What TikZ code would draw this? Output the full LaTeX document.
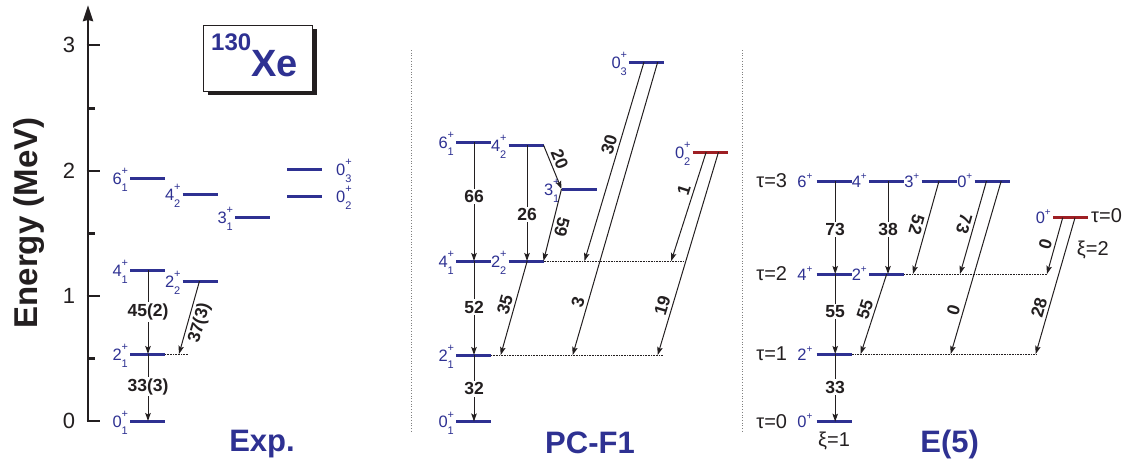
\documentclass[tikz,border=0pt]{standalone}
\usepackage{fontspec}
\setmainfont{Liberation Sans}
\usetikzlibrary{arrows.meta,shadows,calc}
\definecolor{lvb}{HTML}{2E3192}
\definecolor{lvr}{HTML}{9E1F24}
\definecolor{ink}{HTML}{231F20}
\newcommand\JP[2]{#1\rlap{\raisebox{9.5pt}{\fontsize{11}{11}\selectfont +}}\raisebox{-7pt}{\fontsize{11}{11}\selectfont #2}}
\newcommand\Jp[1]{#1\raisebox{8pt}{\fontsize{10}{10}\selectfont +}}
\newcommand\lev[3][lvb]{\node[lvn] (#2) at (#3) {}; \draw[lvl,draw=#1] (#2.west) -- (#2.east);}
\begin{document}
\begin{tikzpicture}[x=1pt,y=-1pt,
  lvn/.style={inner sep=0pt,outer sep=0pt,minimum width=35pt,minimum height=0pt,draw=none},
  lvl/.style={line width=3pt},
  llab/.style={text=lvb,font=\fontsize{16.5}{16.5}\selectfont,inner sep=0pt,anchor=base east},
  rlab/.style={text=lvb,font=\fontsize{16.5}{16.5}\selectfont,inner sep=0pt,anchor=base west},
  tr/.style={line width=1pt,draw=ink,-{Stealth[length=8pt,width=5.5pt,inset=1.5pt]}},
  num/.style={font=\bfseries\fontsize{17.5}{17.5}\selectfont,text=ink,inner sep=1pt},
  vnum/.style={num,fill=white,inner sep=1.5pt},
  snum/.style={num,sloped},
  dotl/.style={densely dotted,line width=0.6pt,draw=ink},
  sepl/.style={dotted,line width=0.7pt,draw=gray},
  axis/.style={line width=2.8pt,draw=ink},
  ticklab/.style={font=\fontsize{22}{22}\selectfont,text=ink,inner sep=0pt,anchor=base},
  panel/.style={font=\bfseries\fontsize{31}{31}\selectfont,text=lvb,inner sep=0pt,anchor=base},
  tau/.style={font=\fontsize{20}{20}\selectfont,text=ink,inner sep=0pt,anchor=base}]
\useasboundingbox (0,0) rectangle (1133,464);

% ---------- axis ----------
\coordinate (ax0) at (88,421);
\coordinate (axtop) at (88,5);
\draw[axis,-{Stealth[length=16pt,width=10pt,inset=1pt]}] (ax0) -- (axtop);
\foreach \yy in {421,296,171,45} \draw[axis] (86.6,\yy) -- (100,\yy);
\foreach \yy in {358.5,233.5,108.5} \draw[axis] (88,\yy) -- (95,\yy);
\node[ticklab] (t0) at (69,428.9) {0};
\node[ticklab] (t1) at (69,303.9) {1};
\node[ticklab] (t2) at (69,178.9) {2};
\node[ticklab] (t3) at (69,52.9) {3};
\node[font=\bfseries\fontsize{33}{33}\selectfont,text=ink,rotate=90,inner sep=0pt] (ylab) at (29,223) {Energy (MeV)};

% ---------- title box ----------
\node[draw=ink,line width=0.8pt,fill=white,minimum width=109pt,minimum height=66pt,inner sep=0pt,
  drop shadow={shadow xshift=5pt,shadow yshift=-4pt,opacity=1,fill=ink}] (tbox) at (257.5,58) {};
\node[anchor=base west,inner sep=0pt,text=lvb,font=\bfseries] (ttxt) at (211,76.7)
  {\raisebox{26.7pt}{\fontsize{24}{24}\selectfont 130}\fontsize{38}{38}\selectfont Xe};

% ---------- separators ----------
\coordinate (s1a) at (411,50); \coordinate (s1b) at (411,433);
\coordinate (s2a) at (742,50); \coordinate (s2b) at (742,433);
\draw[sepl] (s1a) -- (s1b);
\draw[sepl] (s2a) -- (s2b);

% ---------- Exp ----------
\lev{e01}{147.5,421}
\lev{e21}{147.5,354}
\lev{e41}{147.5,270}
\lev{e61}{147.5,178}
\lev{e22}{200,281}
\lev{e42}{200,194}
\lev{e31}{252.5,217}
\lev{e02}{304.5,196}
\lev{e03}{304.5,169}
\node[llab] (le01) at ([xshift=-2pt,yshift=-6pt]e01.west) {\JP{0}{1}};
\node[llab] (le21) at ([xshift=-2pt,yshift=-6pt]e21.west) {\JP{2}{1}};
\node[llab] (le41) at ([xshift=-2pt,yshift=-6pt]e41.west) {\JP{4}{1}};
\node[llab] (le61) at ([xshift=-2pt,yshift=-6pt]e61.west) {\JP{6}{1}};
\node[llab] (le22) at ([xshift=-2pt,yshift=-6pt]e22.west) {\JP{2}{2}};
\node[llab] (le42) at ([xshift=-2pt,yshift=-6pt]e42.west) {\JP{4}{2}};
\node[llab] (le31) at ([xshift=-2pt,yshift=-6pt]e31.west) {\JP{3}{1}};
\node[rlab] (le02) at ([xshift=14pt,yshift=-6pt]e02.east) {\JP{0}{2}};
\node[rlab] (le03) at ([xshift=14pt,yshift=-6pt]e03.east) {\JP{0}{3}};
\draw[dotl] (e21.east) -- ([xshift=58pt]e21.west);
\draw[tr] ([xshift=18pt]e41.west) -- ([xshift=18pt]e21.west) node[vnum,pos=0.5] {45(2)};
\draw[tr] ([xshift=18pt]e21.west) -- ([xshift=18pt]e01.west) node[vnum,pos=0.49] {33(3)};
\draw[tr] ([xshift=17pt]e22.west) -- ([xshift=49pt]e21.west) node[snum,pos=0.53,below=2pt] {37(3)};
\node[panel] (pexp) at (262,451.7) {Exp.};

% ---------- PC-F1 ----------
\lev{p01}{473.5,421.5}
\lev{p21}{473.5,355}
\lev{p41}{473.5,261}
\lev{p61}{473.5,142}
\lev{p22}{526,261}
\lev{p42}{526,145}
\lev{p31}{579,189}
\lev{p03}{646.5,62}
\lev[lvr]{p02}{710,152}
\node[llab] (lp01) at ([xshift=-2pt,yshift=-6pt]p01.west) {\JP{0}{1}};
\node[llab] (lp21) at ([xshift=-2pt,yshift=-6pt]p21.west) {\JP{2}{1}};
\node[llab] (lp41) at ([xshift=-2pt,yshift=-6pt]p41.west) {\JP{4}{1}};
\node[llab] (lp61) at ([xshift=-2pt,yshift=-6pt]p61.west) {\JP{6}{1}};
\node[llab] (lp22) at ([xshift=-2pt,yshift=-6pt]p22.west) {\JP{2}{2}};
\node[llab] (lp42) at ([xshift=-2pt,yshift=-6pt]p42.west) {\JP{4}{2}};
\node[llab] (lp31) at ([xshift=-2pt,yshift=-6pt]p31.west) {\JP{3}{1}};
\node[llab] (lp03) at ([xshift=-2pt,yshift=-6pt]p03.west) {\JP{0}{3}};
\node[llab] (lp02) at ([xshift=-2pt,yshift=-6pt]p02.west) {\JP{0}{2}};
\draw[dotl] (p22.east) -- ([xshift=175pt]p22.west);
\draw[dotl] (p21.east) -- ([xshift=207pt]p21.west);
\draw[tr] ([xshift=18pt]p61.west) -- ([xshift=18pt]p41.west) node[vnum,pos=0.46] {66};
\draw[tr] ([xshift=18pt]p41.west) -- ([xshift=18pt]p21.west) node[vnum,pos=0.49] {52};
\draw[tr] ([xshift=18pt]p21.west) -- ([xshift=18pt]p01.west) node[vnum,pos=0.51] {32};
\draw[tr] ([xshift=18.5pt]p42.west) -- ([xshift=18.5pt]p22.west) node[vnum,pos=0.6] {26};
\draw[tr] (p42.east) -- (p31.west) node[snum,pos=0.4,above=2pt] {20};
\draw[tr] (p31.west) -- (p22.east) node[snum,allow upside down,pos=0.5,above=2pt] {59};
\draw[tr] ([xshift=18.7pt]p22.west) -- ([xshift=44.7pt]p21.west) node[snum,pos=0.49,above=2pt] {35};
\draw[tr] ([xshift=15pt]p03.west) -- ([xshift=76pt]p22.west) node[snum,pos=0.43,above=2pt] {30};
\draw[tr] ([xshift=28.7pt]p03.west) -- ([xshift=116.7pt]p21.west) node[snum,pos=0.83,above=2pt] {3};
\draw[tr] ([xshift=13.7pt]p02.west) -- ([xshift=162.7pt]p22.west) node[snum,pos=0.38,above=2pt] {1};
\draw[tr] ([xshift=26pt]p02.west) -- ([xshift=201.7pt]p21.west) node[snum,pos=0.77,above=2pt] {19};
\node[panel] (ppc) at (590,453) {PC-F1};

% ---------- E(5) ----------
\lev{f61}{834.2,181}
\lev{f4a}{886.5,181}
\lev{f31}{939,181}
\lev{f0a}{992,181}
\lev{f41}{834.2,274}
\lev{f2a}{886.5,274}
\lev{f21}{834.2,354}
\lev{f01}{834.2,421.7}
\lev[lvr]{f0r}{1070.5,217.7}
\node[llab] (lf61) at ([xshift=-4pt,yshift=-6pt]f61.west) {\Jp{6}};
\node[llab] (lf4a) at ([xshift=-2pt,yshift=-6pt]f4a.west) {\Jp{4}};
\node[llab] (lf31) at ([xshift=-2pt,yshift=-6pt]f31.west) {\Jp{3}};
\node[llab] (lf0a) at ([xshift=-2pt,yshift=-6pt]f0a.west) {\Jp{0}};
\node[llab] (lf41) at ([xshift=-4pt,yshift=-6pt]f41.west) {\Jp{4}};
\node[llab] (lf2a) at ([xshift=-2pt,yshift=-6pt]f2a.west) {\Jp{2}};
\node[llab] (lf21) at ([xshift=-4pt,yshift=-6pt]f21.west) {\Jp{2}};
\node[llab] (lf01) at ([xshift=-4pt,yshift=-6pt]f01.west) {\Jp{0}};
\node[llab] (lf0r) at ([xshift=-2pt,yshift=-6pt]f0r.west) {\Jp{0}};
\node[tau] (tau3) at (771.7,187.5) {τ=3};
\node[tau] (tau2) at (771.7,280.5) {τ=2};
\node[tau] (tau1) at (771.7,360.5) {τ=1};
\node[tau] (tau0) at (771.7,428.5) {τ=0};
\node[tau,anchor=base west] (tau0r) at (1091,222.5) {τ=0};
\node[tau,anchor=base west] (xi2) at (1076.7,255) {ξ=2};
\node[tau] (xi1) at (834,446.5) {ξ=1};
\draw[dotl] (f2a.east) -- ([xshift=178pt]f2a.west);
\draw[dotl] (f21.east) -- ([xshift=220pt]f21.west);
\draw[tr] ([xshift=18.5pt]f61.west) -- ([xshift=18.5pt]f41.west) node[vnum,pos=0.52] {73};
\draw[tr] ([xshift=18.5pt]f41.west) -- ([xshift=18.5pt]f21.west) node[vnum,pos=0.47] {55};
\draw[tr] ([xshift=18.5pt]f21.west) -- ([xshift=18.5pt]f01.west) node[vnum,pos=0.49] {33};
\draw[tr] ([xshift=19pt]f4a.west) -- ([xshift=19pt]f2a.west) node[vnum,pos=0.52] {38};
\draw[tr] ([xshift=17.5pt]f31.west) -- ([xshift=44pt]f2a.west) node[snum,allow upside down,pos=0.5,below=2pt] {52};
\draw[tr] ([xshift=17.7pt]f2a.west) -- ([xshift=44pt]f21.west) node[snum,pos=0.48,above=2pt] {55};
\draw[tr] ([xshift=12pt]f0a.west) -- ([xshift=91pt]f2a.west) node[snum,allow upside down,pos=0.49,below=2pt] {73};
\draw[tr] ([xshift=26.7pt]f0a.west) -- ([xshift=134pt]f21.west) node[snum,pos=0.76,above=2pt] {0};
\draw[tr] ([xshift=9.7pt]f0r.west) -- ([xshift=178pt]f2a.west) node[snum,pos=0.51,above=2pt] {0};
\draw[tr] ([xshift=22pt]f0r.west) -- ([xshift=219pt]f21.west) node[snum,pos=0.68,above=2pt] {28};
\node[panel] (pe5) at (949.7,452) {E(5)};
\end{tikzpicture}
\end{document}
